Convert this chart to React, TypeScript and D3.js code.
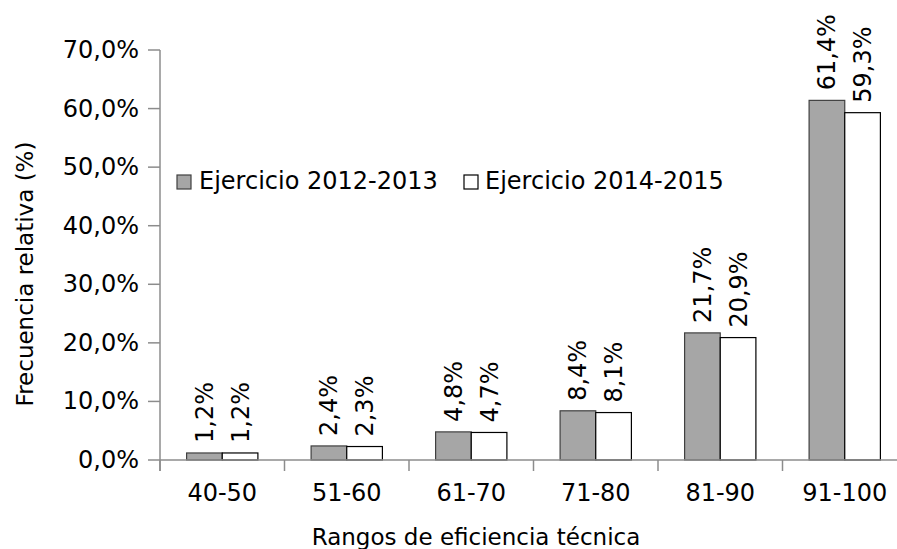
import React from "react";
import * as d3 from "d3";

const categories = ["40-50", "51-60", "61-70", "71-80", "81-90", "91-100"];
const series1 = [1.2, 2.4, 4.8, 8.4, 21.7, 61.4];
const series2 = [1.2, 2.3, 4.7, 8.1, 20.9, 59.3];
const seriesNames = ["Ejercicio 2012-2013", "Ejercicio 2014-2015"];
const yTicks = [0, 10, 20, 30, 40, 50, 60, 70];

const W = 897;
const H = 549;
const FONT = "DejaVu Sans, sans-serif";
const FS = 24;
const FT = 23;

const fmt = (v: number) => v.toFixed(1).replace(".", ",") + "%";

export default function App() {
  const left = 160;
  const step = 124.5;
  const x = d3
    .scaleBand<string>()
    .domain(categories)
    .range([left, left + step * categories.length])
    .padding(0);
  const y = d3.scaleLinear().domain([0, 70]).range([460, 50]);
  const inner = d3
    .scaleBand<number>()
    .domain([0, 1])
    .range([26.6, 97.9])
    .padding(0);
  const fills = ["#a6a6a6", "#ffffff"];
  const strokes = ["#404040", "#000000"];
  const data = [series1, series2];
  const axisColor = "#8c8c8c";
  const boundaries = categories.map((c) => x(c)!).concat([left + step * categories.length]);

  return (
    <svg width={W} height={H} style={{ position: "absolute", left: 0, top: 0 }} fontFamily={FONT}>
      <rect x={0} y={0} width={W} height={H} fill="#fff" />
      {/* y axis */}
      <line x1={left} x2={left} y1={y(70)} y2={471} stroke={axisColor} strokeWidth={1.5} />
      {yTicks.map((t) => (
        <g key={t}>
          <line x1={148} x2={left} y1={y(t)} y2={y(t)} stroke={axisColor} strokeWidth={1.5} />
          <text x={139} y={y(t) + 8} textAnchor="end" fontSize={FS} fill="#000">
            {fmt(t)}
          </text>
        </g>
      ))}
      {/* bars */}
      {categories.map((c, i) =>
        data.map((s, k) => {
          const bx = x(c)! + inner(k)!;
          const bw = inner.bandwidth();
          const top = y(s[i]);
          return (
            <g key={c + k}>
              <rect
                x={bx}
                y={top}
                width={bw}
                height={y(0) - top}
                fill={fills[k]}
                stroke={strokes[k]}
                strokeWidth={1.2}
              />
              <text
                transform={`translate(${bx + bw / 2 + 8.5},${top - 10}) rotate(-90)`}
                fontSize={FS}
                fill="#000"
              >
                {fmt(s[i])}
              </text>
            </g>
          );
        })
      )}
      {/* x axis */}
      <line x1={left} x2={W + 20} y1={y(0)} y2={y(0)} stroke={axisColor} strokeWidth={1.5} />
      {boundaries.map((b, i) => (
        <line key={i} x1={b} x2={b} y1={y(0)} y2={471} stroke={axisColor} strokeWidth={1.5} />
      ))}
      {categories.map((c) => (
        <text key={c} x={x(c)! + step / 2} y={501} textAnchor="middle" fontSize={FS} fill="#000">
          {c}
        </text>
      ))}
      {/* legend */}
      <rect x={177} y={175} width={14} height={14} fill={fills[0]} stroke={strokes[0]} strokeWidth={1.2} />
      <text x={199} y={189} fontSize={FS} fill="#000">{seriesNames[0]}</text>
      <rect x={464} y={175} width={14} height={14} fill={fills[1]} stroke={strokes[1]} strokeWidth={1.2} />
      <text x={485} y={189} fontSize={FS} fill="#000">{seriesNames[1]}</text>
      {/* axis titles */}
      <text x={476} y={545} textAnchor="middle" fontSize={FT} fill="#000">
        Rangos de eficiencia técnica
      </text>
      <text transform="translate(33,274) rotate(-90)" textAnchor="middle" fontSize={FT} fill="#000">
        Frecuencia relativa (%)
      </text>
    </svg>
  );
}
